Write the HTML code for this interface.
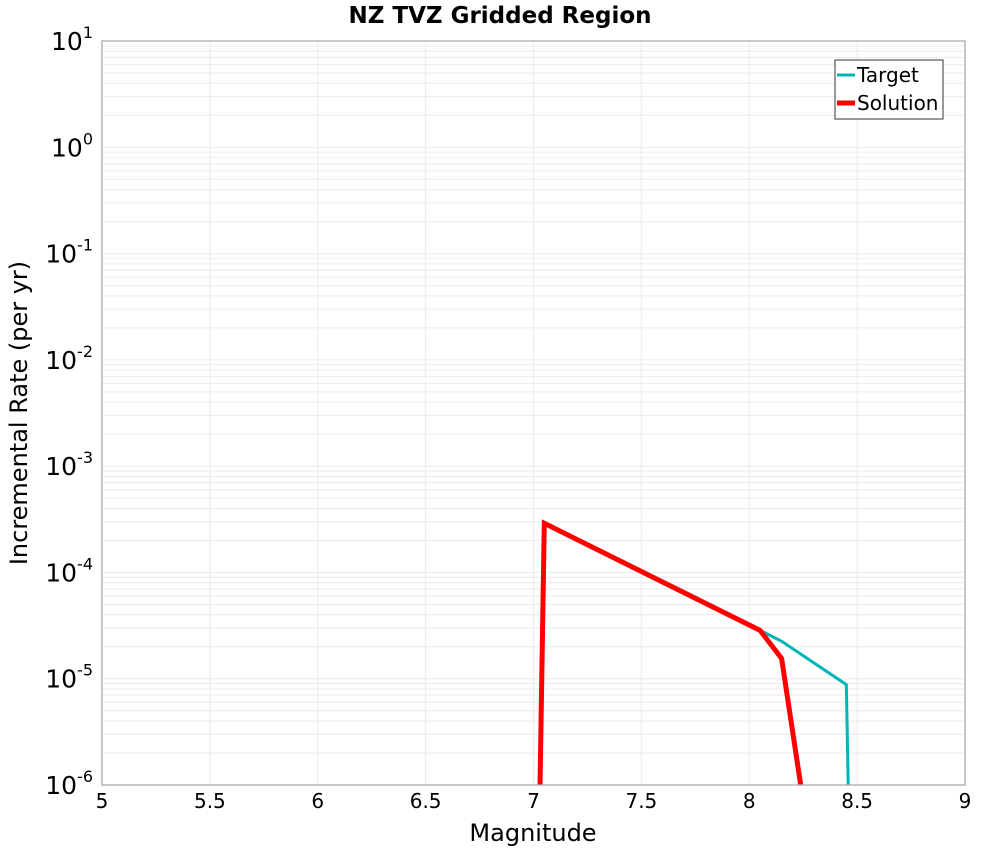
<!DOCTYPE html>
<html><head><meta charset="utf-8"><style>
html,body{margin:0;background:#fff;overflow:hidden;width:1000px;height:850px;font-family:"Liberation Sans","DejaVu Sans",sans-serif}
svg{display:block}
</style></head><body>
<svg id="chart" width="1000" height="850" xmlns="http://www.w3.org/2000/svg" font-family="DejaVu Sans, Liberation Sans, sans-serif">
<text x="500" y="23" text-anchor="middle" font-size="23" font-weight="bold">NZ TVZ Gridded Region</text>
<g id="grid"></g>
<g id="series"></g>
<rect x="102" y="41" width="863" height="744" fill="none" stroke="#aaa" stroke-width="1.3"/>
<g id="ticks"></g>
<text x="533" y="841" text-anchor="middle" font-size="24">Magnitude</text>
<text transform="translate(27,413) rotate(-90)" text-anchor="middle" font-size="24">Incremental Rate (per yr)</text>
<g>
<rect x="835" y="60" width="108" height="59" fill="#fff" stroke="#333" stroke-width="1"/>
<g><line x1="837" y1="75" x2="855" y2="75" stroke="#00b5b5" stroke-width="3"/><text x="857" y="82" font-size="20">Target</text></g>
<g><line x1="837" y1="103" x2="855" y2="103" stroke="#ff0000" stroke-width="5"/><text x="857" y="110" font-size="20">Solution</text></g>
</g>
</svg>
<script>
const xTicks=[5,5.5,6,6.5,7,7.5,8,8.5,9];
const yDecades=[-6,-5,-4,-3,-2,-1,0,1];
const targetMags=[6.95,7.05,8.05,8.15,8.45,8.55];
const targetRates=[1e-16,2.9e-4,2.85e-5,2.25e-5,8.8e-6,1e-16];
const solutionMags=[6.95,7.05,8.05,8.15,8.25,8.35];
const solutionRates=[1e-16,2.9e-4,2.85e-5,1.55e-5,7e-7,1e-16];
const L=102,R=965,T=41,B=785;
const xs=m=>L+(m-5)/4*(R-L);
const ys=v=>T+(1-Math.log10(v))/7*(B-T);
const NS="http://www.w3.org/2000/svg";
function mk(tag,attrs,parent){const e=document.createElementNS(NS,tag);for(const k in attrs)e.setAttribute(k,attrs[k]);parent.appendChild(e);return e;}
const grid=document.getElementById('grid'),ticks=document.getElementById('ticks'),ser=document.getElementById('series');
for(let d=-6;d<1;d++){for(let k=1;k<10;k++){const y=ys(k*Math.pow(10,d));const l=mk('line',{x1:L,x2:R,y1:y,y2:y,stroke:'#ebebeb','stroke-width':1},grid);

}}
xTicks.forEach(m=>{const x=xs(m);const l=mk('line',{x1:x,x2:x,y1:T,y2:B,stroke:'#ebebeb','stroke-width':1},grid);


const t=mk('text',{x:x,y:808,'text-anchor':'middle','font-size':20},ticks);t.textContent=String(m);

});
yDecades.forEach(d=>{const y=ys(Math.pow(10,d));const t=mk('text',{x:93,y:y+9,'text-anchor':'end','font-size':25},ticks);
t.textContent='10';const s=mk('tspan',{dy:-12,'font-size':16},t);s.textContent=String(d);

});
const cp=mk('clipPath',{id:'clip'},ser);mk('rect',{x:L,y:T,width:R-L,height:B-T},cp);
function line(ms,vs,col,w,name){const p=ms.map((m,i)=>xs(m)+','+ys(vs[i])).join(' ');
const e=mk('polyline',{points:p,fill:'none',stroke:col,'stroke-width':w,'clip-path':'url(#clip)','stroke-linejoin':'miter'},ser);

}
line(targetMags,targetRates,'#00b5b5',3,'target-line');
line(solutionMags,solutionRates,'#ff0000',5,'solution-line');
</script>
</body></html>
